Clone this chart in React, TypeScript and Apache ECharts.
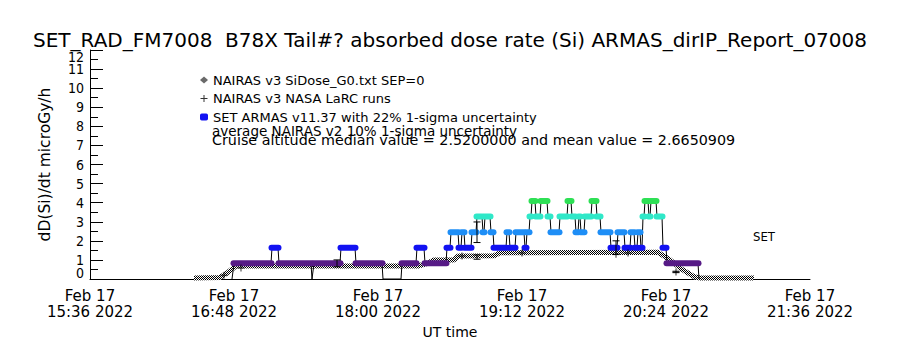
import React, { useEffect, useRef } from "react";
import * as echarts from "echarts";

const TITLE =
  "SET_RAD_FM7008  B78X Tail#? absorbed dose rate (Si) ARMAS_dirIP_Report_07008";
const Y_NAME = "dD(Si)/dt microGy/h";
const X_NAME = "UT time";
const DATE_LINE = "Feb 17";
const YEAR = "2022";
const X_MIN = "15:36";
const X_MAX = "21:36";
const X_STEP_MIN = 72;
const Y_MAX = 12;

const LEGEND_NAIRAS = "NAIRAS v3 SiDose_G0.txt SEP=0";
const LEGEND_LARC = "NAIRAS v3 NASA LaRC runs";
const LEGEND_ARMAS = "SET ARMAS v11.37 with 22% 1-sigma uncertainty";
const NOTE_1 = "average NAIRAS v2 10% 1-sigma uncertainty";
const NOTE_2 =
  "Cruise altitude median value = 2.5200000 and mean value = 2.6650909";
const SET_LABEL = "SET";

// NAIRAS v3 SiDose model (UT, µGy/h)
const nairasTimes = [
  "16:28", "16:41", "16:45", "16:49", "18:20", "18:24", "18:28", "18:38",
  "18:40", "18:58", "19:01", "20:20", "20:26", "20:32", "20:38", "20:41", "21:08",
];
const nairasValues = [
  0.05, 0.08, 0.35, 0.68, 0.68, 0.8, 1.0, 1.0, 1.2, 1.22, 1.38, 1.4, 1.0, 0.5,
  0.12, 0.05, 0.05,
];

// NAIRAS v3 NASA LaRC runs
const larcTimes = ["16:43", "16:51:30", "18:42", "19:12", "19:59", "20:05", "20:29"];
const larcValues = [0.2, 0.57, 1.2, 1.36, 1.3, 1.36, 0.37];

// SET ARMAS measurements: runs of constant level [start UT, end UT, µGy/h]
const armasRuns: [string, string, number][] = [
  ["16:47", "16:47", 0],
  ["16:48", "17:06:30", 0.82],
  ["17:07", "17:10", 1.64],
  ["17:10:30", "17:26:30", 0.82],
  ["17:27", "17:27", 0],
  ["17:28", "17:41", 0.82],
  ["17:41:30", "17:48:30", 1.64],
  ["17:49", "18:02", 0.82],
  ["18:02:30", "18:02:30", 0],
  ["18:11:30", "18:11:30", 0],
  ["18:12", "18:19", 0.82],
  ["18:19:30", "18:23", 1.64],
  ["18:23:30", "18:34", 0.82],
  ["18:34:30", "18:36", 1.64],
  ["18:36:30", "18:40", 2.45],
  ["18:40:30", "18:41:30", 1.64],
  ["18:42", "18:43", 2.45],
  ["18:43:30", "18:46:30", 1.64],
  ["18:47", "18:49", 2.45],
  ["18:49:30", "18:52", 3.27],
  ["18:52:30", "18:53", 2.45],
  ["18:53:30", "18:56", 3.27],
  ["18:56:30", "18:57:30", 2.45],
  ["18:58", "19:04", 1.64],
  ["19:04:30", "19:05:30", 2.45],
  ["19:06", "19:08:30", 1.64],
  ["19:09", "19:13", 2.45],
  ["19:13:30", "19:14", 1.64],
  ["19:14:30", "19:15:30", 2.45],
  ["19:16", "19:16:30", 3.27],
  ["19:17", "19:18:30", 4.09],
  ["19:19", "19:21", 3.27],
  ["19:21:30", "19:24:30", 4.09],
  ["19:25", "19:26", 3.27],
  ["19:26:30", "19:30:30", 2.45],
  ["19:31", "19:34:30", 3.27],
  ["19:35", "19:36:30", 4.09],
  ["19:37", "19:38:30", 3.27],
  ["19:39", "19:40", 2.45],
  ["19:40:30", "19:41", 3.27],
  ["19:41:30", "19:43", 2.45],
  ["19:43:30", "19:46:30", 3.27],
  ["19:47", "19:49", 4.09],
  ["19:49:30", "19:51", 3.27],
  ["19:51:30", "19:56", 2.45],
  ["19:56:30", "19:59:30", 1.64],
  ["20:00", "20:03", 2.45],
  ["20:03:30", "20:06", 1.64],
  ["20:06:30", "20:08", 2.45],
  ["20:08:30", "20:09:30", 1.64],
  ["20:10", "20:11", 2.45],
  ["20:11:30", "20:12", 1.64],
  ["20:12:30", "20:13", 3.27],
  ["20:13:30", "20:15", 4.09],
  ["20:15:30", "20:16", 3.27],
  ["20:16:30", "20:19", 4.09],
  ["20:19:30", "20:22", 3.27],
  ["20:22:30", "20:24", 1.64],
  ["20:24:30", "20:40", 0.82],
  ["20:40:30", "20:40:30", 0],
];

// 1-sigma uncertainty bars
const armasErrTimes = ["17:39:30", "18:49:30", "19:59"];
const armasErrValues = [0.82, 2.45, 1.64];
const ARMAS_SIGMA = 0.22;
const nairasErrTimes = ["18:49:30", "20:29"];
const nairasErrValues = [1.15, 0.37];
const NAIRAS_SIGMA = 0.1;

const FONT = "DejaVu Sans";
const FONT_C = "DejaVu Sans Condensed";

const toMin = (s: string) => {
  const p = s.split(":").map(Number);
  return p[0] * 60 + p[1] + (p[2] || 0) / 60;
};

const levelColor = (v: number) => {
  if (v < 0.4) return "rgba(0,0,0,0)";
  if (v < 1.2) return "#561a86";
  if (v < 2.0) return "#1212f2";
  if (v < 2.9) return "#1e8ef6";
  if (v < 3.7) return "#2fe8c8";
  return "#2ee055";
};

const checker =
  "data:image/svg+xml;utf8," +
  encodeURIComponent(
    "<svg xmlns='http://www.w3.org/2000/svg' width='2' height='2'><rect width='2' height='2' fill='white'/><rect width='1' height='1' fill='black'/><rect x='1' y='1' width='1' height='1' fill='black'/></svg>"
  );

export default function App() {
  const ref = useRef<HTMLDivElement>(null);

  useEffect(() => {
    if (!ref.current) return;
    const chart = echarts.init(ref.current, undefined, { renderer: "svg" });

    const pattern: any = { image: checker, repeat: "repeat", imageWidth: 2, imageHeight: 2 };

    const nairasData = nairasTimes.map((t, i) => [toMin(t), nairasValues[i]]);
    const larcData = larcTimes.map((t, i) => [toMin(t), larcValues[i]]);
    const runData = armasRuns
      .filter((r) => r[2] > 0)
      .map((r) => [toMin(r[0]), toMin(r[1]), r[2]]);
    const pathData: number[][] = [];
    armasRuns.forEach((r) => {
      pathData.push([toMin(r[0]), r[2]]);
      if (r[1] !== r[0]) pathData.push([toMin(r[1]), r[2]]);
    });
    const errData = [
      ...armasErrTimes.map((t, i) => [
        toMin(t),
        armasErrValues[i] * (1 - ARMAS_SIGMA),
        armasErrValues[i] * (1 + ARMAS_SIGMA),
      ]),
      ...nairasErrTimes.map((t, i) => [
        toMin(t),
        nairasErrValues[i] * (1 - NAIRAS_SIGMA),
        nairasErrValues[i] * (1 + NAIRAS_SIGMA),
      ]),
    ];

    const fmtX = (v: number) => {
      const h = Math.floor(v / 60);
      const m = Math.round(v - h * 60);
      return `${DATE_LINE}\n${h}:${String(m).padStart(2, "0")} ${YEAR}`;
    };
    const yLabelStyle = { fontFamily: FONT_C, fontSize: 14, color: "#000" };

    chart.setOption({
      animation: false,
      backgroundColor: "#ffffff",
      title: {
        text: TITLE,
        left: "center",
        top: 25,
        textStyle: { fontFamily: FONT, fontSize: 20, fontWeight: "normal", color: "#000" },
      },
      legend: {
        orient: "vertical",
        left: 195,
        top: 68,
        itemWidth: 8,
        itemHeight: 7,
        itemGap: 4.5,
        selectedMode: false,
        textStyle: { fontFamily: FONT, fontSize: 13, color: "#000", lineHeight: 14 },
        data: [
          { name: LEGEND_NAIRAS, icon: "diamond", itemStyle: { color: "#6a6a6a" } },
          {
            name: LEGEND_LARC,
            icon: "path://M3,0h1v3h3v1h-3v3h-1v-3h-3v-1h3z",
            itemStyle: { color: "#000" },
          },
          { name: LEGEND_ARMAS, icon: "roundRect", itemStyle: { color: "#1212f2" } },
        ],
      },
      graphic: [
        {
          type: "text",
          left: 212,
          top: 124,
          style: { text: NOTE_1, font: `13.5px '${FONT}'`, fill: "#000" },
        },
        {
          type: "text",
          left: 212,
          top: 133,
          style: { text: NOTE_2, font: `14.3px '${FONT}'`, fill: "#000" },
        },
        {
          type: "text",
          left: 753,
          top: 230,
          style: { text: SET_LABEL, font: `13px '${FONT_C}'`, fill: "#000" },
        },
      ],
      grid: [
        { left: 90, right: 90, top: 50, bottom: 71 },
        // helper grid: end labels of the y axis sit inside the axis span, as in the reference
        { left: 90, right: 90, top: 57, bottom: 77 },
      ],
      xAxis: [
        {
          type: "value",
          min: toMin(X_MIN),
          max: toMin(X_MAX),
          interval: X_STEP_MIN,
          name: X_NAME,
          nameLocation: "middle",
          nameGap: 46,
          nameTextStyle: { fontFamily: FONT, fontSize: 14, color: "#000" },
          axisLine: { lineStyle: { color: "#000", width: 1 } },
          axisTick: { show: false },
          splitLine: { show: false },
          axisLabel: {
            formatter: fmtX,
            color: "#000",
            fontFamily: FONT,
            fontSize: 15,
            lineHeight: 16,
            margin: 9,
            showMinLabel: true,
            showMaxLabel: true,
          },
        },
        { type: "value", gridIndex: 1, min: 0, max: 1, show: false },
      ],
      yAxis: [
        {
          type: "value",
          min: 0,
          max: Y_MAX,
          interval: 1,
          name: Y_NAME,
          nameLocation: "middle",
          nameGap: 37,
          nameRotate: 90,
          nameTextStyle: { fontFamily: FONT, fontSize: 15.5, color: "#000" },
          axisLine: { show: true, lineStyle: { color: "#000", width: 1 } },
          axisTick: { show: true, inside: true, length: 13, lineStyle: { color: "#000" } },
          minorTick: { show: true, splitNumber: 2, length: 8, lineStyle: { color: "#000" } },
          splitLine: { show: false },
          axisLabel: {
            ...yLabelStyle,
            formatter: (v: number) => (v === 0 || v === Y_MAX ? "" : String(v)),
            margin: 6,
            padding: [5, 0, 0, 0],
          },
        },
        {
          type: "value",
          gridIndex: 1,
          min: 0,
          max: Y_MAX,
          interval: Y_MAX,
          axisLine: { show: false },
          axisTick: { show: false },
          splitLine: { show: false },
          axisLabel: { ...yLabelStyle, margin: 6, showMinLabel: true, showMaxLabel: true },
        },
      ],
      series: [
        {
          name: LEGEND_NAIRAS,
          type: "line",
          data: nairasData,
          symbol: "none",
          lineStyle: { width: 5, color: pattern },
          itemStyle: { color: "#6a6a6a" },
          z: 2,
        },
        {
          name: "ARMAS path",
          type: "line",
          data: pathData,
          symbol: "none",
          lineStyle: { width: 1, color: "#000" },
          z: 3,
        },
        {
          name: LEGEND_ARMAS,
          type: "custom",
          data: runData,
          encode: { x: [0, 1], y: 2 },
          itemStyle: { color: "#1212f2" },
          renderItem: (params: any, api: any) => {
            const v = api.value(2);
            const p1 = api.coord([api.value(0), v]);
            const p2 = api.coord([api.value(1), v]);
            return {
              type: "rect",
              shape: {
                x: p1[0] - 3.5,
                y: p1[1] - 3,
                width: p2[0] - p1[0] + 7,
                height: 6,
                r: 3,
              },
              style: { fill: levelColor(v) },
            };
          },
          z: 4,
        },
        {
          name: LEGEND_LARC,
          type: "scatter",
          data: larcData,
          symbol: "path://M3,0h1v3h3v1h-3v3h-1v-3h-3v-1h3z",
          symbolSize: 7,
          itemStyle: { color: "#000" },
          z: 5,
        },
        {
          name: "uncertainty",
          type: "custom",
          data: errData,
          encode: { x: 0, y: [1, 2] },
          renderItem: (params: any, api: any) => {
            const lo = api.coord([api.value(0), api.value(1)]);
            const hi = api.coord([api.value(0), api.value(2)]);
            const st = { stroke: "#000", lineWidth: 1 };
            return {
              type: "group",
              children: [
                { type: "line", shape: { x1: lo[0], y1: lo[1], x2: hi[0], y2: hi[1] }, style: st },
                { type: "line", shape: { x1: lo[0] - 3.5, y1: lo[1], x2: lo[0] + 3.5, y2: lo[1] }, style: st },
                { type: "line", shape: { x1: hi[0] - 3.5, y1: hi[1], x2: hi[0] + 3.5, y2: hi[1] }, style: st },
              ],
            };
          },
          z: 6,
        },
      ],
    });

    return () => chart.dispose();
  }, []);

  return (
    <div
      ref={ref}
      style={{ position: "fixed", left: 0, top: 0, width: 900, height: 350, background: "#fff" }}
    />
  );
}
